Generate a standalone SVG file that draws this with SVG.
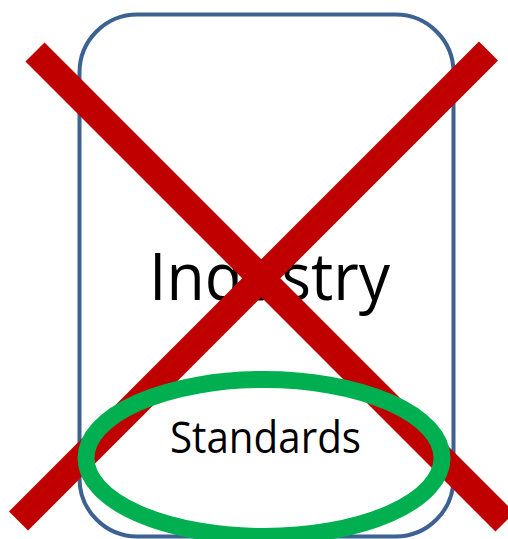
<svg xmlns="http://www.w3.org/2000/svg" width="508" height="539" viewBox="0 0 508 539">
<style>
.box{fill:#fff;stroke:#3D6291;stroke-width:4}
.cross{stroke:#C00000;stroke-width:27;stroke-linecap:butt}
.ring{fill:none;stroke:#00B050;stroke-width:17}
.lbl{font-family:"Open Sans","Noto Sans","Liberation Sans",sans-serif;fill:#000}
</style>
<rect width="508" height="539" fill="#fff"/>
<g id="industry">
<rect class="box" x="79.5" y="14.5" width="374" height="522" rx="58" ry="58"/>
<text class="lbl" x="149" y="299.5" font-size="66" textLength="241" lengthAdjust="spacingAndGlyphs">Industry</text>
</g>
<g id="cross">
<line class="cross" x1="35" y1="52" x2="505" y2="522"/>
<line class="cross" x1="488.5" y1="51" x2="18.5" y2="521"/>
</g>
<g id="standards">
<ellipse class="ring" cx="264" cy="458" rx="178" ry="78.5"/>
<text class="lbl" x="170" y="453.3" font-size="44" textLength="191" lengthAdjust="spacingAndGlyphs">Standards</text>
</g>
</svg>
